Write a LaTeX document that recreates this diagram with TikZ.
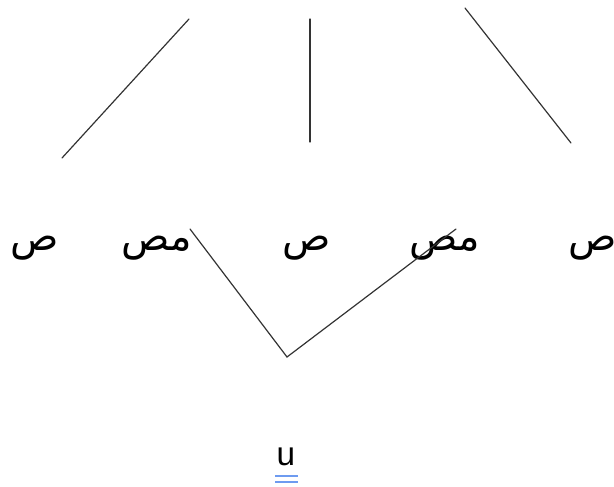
\documentclass[tikz,border=0pt]{standalone}
\usepackage{fontspec}
\setmainfont{Liberation Sans}
\newfontfamily\arabicfont[Script=Arabic]{DejaVu Sans}
\TeXXeTstate=1
\definecolor{markblue}{RGB}{110,155,240}

\begin{document}
\begin{tikzpicture}[
    x=0.75pt, y=-0.75pt,
    leaf/.style={inner sep=0pt, font=\arabicfont\fontsize{30}{34}\selectfont},
    root/.style={inner sep=0pt, font=\fontsize{25}{30}\selectfont},
    branch/.style={line width=0.9pt, draw=black!80, line cap=round},
    rootline/.style={draw=markblue, line width=1.6pt}
]
\useasboundingbox (0,0) rectangle (614,486);

% --- Upper branches ---
\coordinate (la) at (189,19);
\coordinate (lb) at (62,158);
\coordinate (ma) at (310,19);
\coordinate (mb) at (310,142);
\coordinate (ra) at (465,8);
\coordinate (rb) at (571,143);

% --- Leaves ---
\node (s1) at (35,248) [leaf] {\beginR ص\endR};
\node (ms1) at (157,248) [leaf] {\beginR مص\endR};
\node (s2) at (307,248) [leaf] {\beginR ص\endR};
\node (ms2) at (445,248) [leaf] {\beginR مص\endR};
\node (s3) at (593,248) [leaf] {\beginR ص\endR};

% --- Lower fork ---
\coordinate (vl) at (190,229);
\coordinate (vb) at (287,357);
\coordinate (vr) at (456,229);

% --- Root ---
\node (u) at (286,457) [root] {u};
\coordinate (ul) at (275,476);
\coordinate (ur) at (298,476);

% --- Edges ---
\draw [branch] (la) -- (lb);
\draw [branch] (ma) -- (mb);
\draw [branch] (ra) -- (rb);
\draw [branch] (vl) -- (vb) -- (vr);

% double line under the root
\draw [rootline] (ul) -- (ur);
\draw [rootline] ([yshift=-4.2pt]ul) -- ([yshift=-4.2pt]ur);

\end{tikzpicture}
\end{document}
